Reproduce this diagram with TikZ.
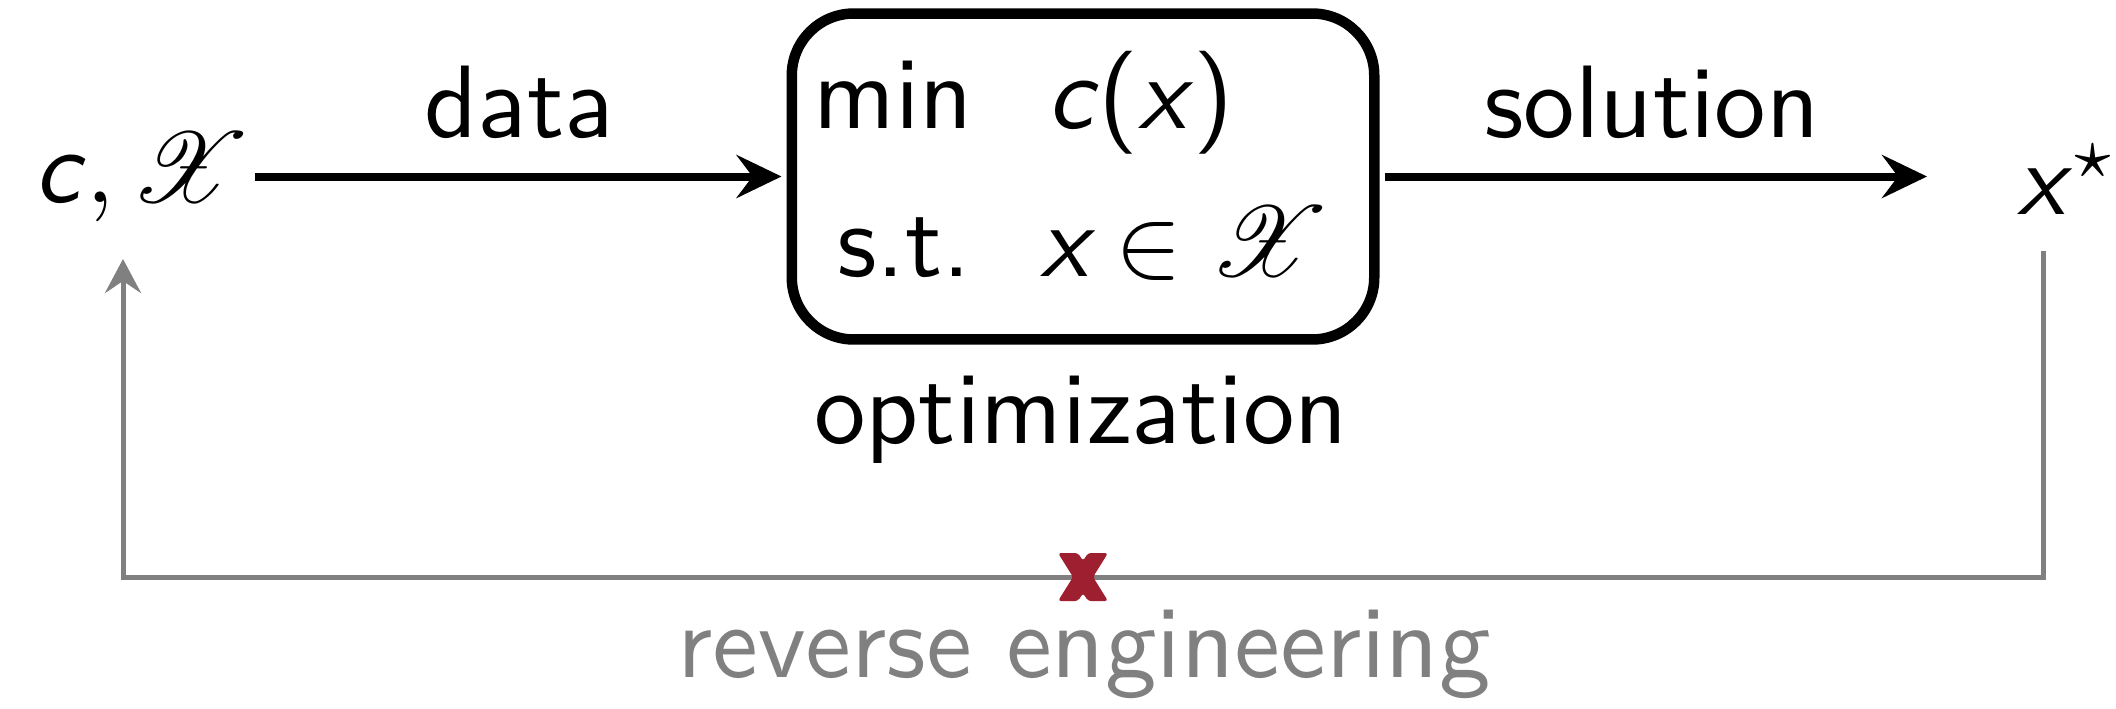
\documentclass[tikz,border=0pt]{standalone}
\usepackage{mathrsfs}
\usetikzlibrary{arrows.meta,calc}
\newcommand{\vx}{\textsf{\slshape x}}
\newcommand{\vc}{\textsf{\slshape c}}
\newcommand{\calX}{\mathscr{X}}
\definecolor{xred}{RGB}{158,31,48}
\begin{document}
\begin{tikzpicture}[x=0.1pt,y=-0.1pt,
  font=\sffamily\fontsize{10.3}{12.4}\selectfont,
  lbl/.style={inner sep=0pt, anchor=base},
  flow/.style={line width=0.8pt, -{Stealth[length=4.5pt,width=4.3pt,inset=1.6pt]}},
  back/.style={line width=0.5pt, draw=gray, -{Stealth[length=3.4pt,width=3.6pt,inset=1.2pt]}},
  optbox/.style={draw, line width=1.05pt, rounded corners=6.2pt,
    minimum width=58.25pt, minimum height=32.6pt, inner sep=0pt}]
\useasboundingbox (0,0) rectangle (2116,708);
% nodes
\node[lbl, anchor=base west] (cx) at (33,202) {\vc$,\calX$};
\node[optbox] (box) at (1083,176.5) {};
\node[lbl, anchor=base east] (min) at (975,128) {min};
\node[lbl, anchor=base west] (obj) at (1045,128) {\vc(\vx)};
\node[lbl, anchor=base east] (st) at (973,276) {s.t.};
\node[lbl, anchor=base west] (con) at (1038,276) {${\vx}\in\calX$};
\node[lbl] (opt) at (1081,443) {optimization};
\node[lbl, anchor=base west] (xs) at (2015,214) {\vx$^\star$};
\node[lbl] (data) at (519,137) {data};
\node[lbl] (sol) at (1652,137) {solution};
\node[lbl, text=gray] (rev) at (1084,677) {reverse engineering};
\coordinate (cross) at (1083,577);
% connectors
\draw[flow] ($(cx.west |- box.west)+(222,0)$) -- ($(box.west)+(-5,0)$);
\draw[flow] ($(box.east)+(5,0)$) -- ($(xs.west |- box.east)+(-88,0)$);
\draw[back] ($(xs.base west)+(28,37)$) -- ++(0,326) -| ($(cx.base west)+(90,57)$);
% red cross
\begin{scope}[shift={(cross)}]
\fill[xred, rounded corners=0.3pt] (-25,-24) -- (-5,-24) -- (0,-16) -- (5,-24) -- (25,-24)
  -- (10,0) -- (25,24) -- (5,24) -- (0,16) -- (-5,24) -- (-25,24) -- (-10,0) -- cycle;
\end{scope}
\end{tikzpicture}
\end{document}
